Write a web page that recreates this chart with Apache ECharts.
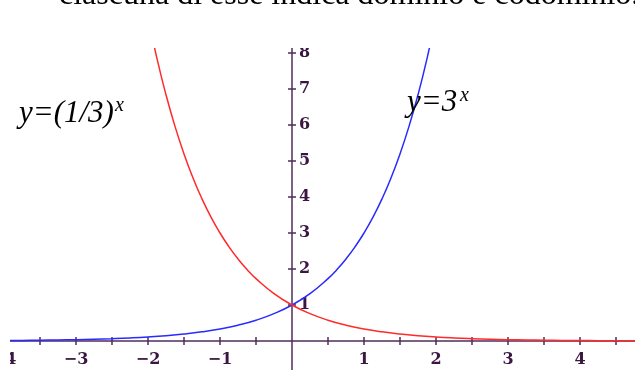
<!DOCTYPE html>
<html>
<head>
<meta charset="utf-8">
<script src="https://cdn.jsdelivr.net/npm/echarts@6/dist/echarts.min.js"></script>
<style>
  html, body { margin: 0; padding: 0; background: #ffffff; }
  #chart { width: 635px; height: 370px; }
</style>
</head>
<body>
<div id="chart"></div>
<script>
// y = 3^x, sampled points
const blueX = [-4.06, -3.75, -3.5, -3.25, -3, -2.75, -2.5, -2.25, -2, -1.75, -1.5, -1.25, -1, -0.75, -0.5, -0.25, 0, 0.25, 0.5, 0.625, 0.75, 0.875, 1, 1.125, 1.25, 1.375, 1.5, 1.625, 1.75, 1.875, 2];
const blueY = [0.0116, 0.0162, 0.0214, 0.0281, 0.037, 0.0487, 0.0642, 0.0844, 0.1111, 0.1462, 0.1925, 0.2533, 0.3333, 0.4387, 0.5774, 0.7598, 1, 1.3161, 1.7321, 1.987, 2.2795, 2.6151, 3, 3.4415, 3.9482, 4.5293, 5.1962, 5.9612, 6.8385, 7.845, 9];

// y = (1/3)^x, sampled points
const redX = [-2, -1.875, -1.75, -1.625, -1.5, -1.375, -1.25, -1.125, -1, -0.875, -0.75, -0.625, -0.5, -0.25, 0, 0.25, 0.5, 0.75, 1, 1.25, 1.5, 1.75, 2, 2.25, 2.5, 2.75, 3, 3.25, 3.5, 3.75, 4, 4.25, 4.5, 4.8];
const redY = [9, 7.845, 6.8385, 5.9612, 5.1962, 4.5293, 3.9482, 3.4415, 3, 2.6151, 2.2795, 1.987, 1.7321, 1.3161, 1, 0.7598, 0.5774, 0.4387, 0.3333, 0.2533, 0.1925, 0.1462, 0.1111, 0.0844, 0.0642, 0.0487, 0.037, 0.0281, 0.0214, 0.0162, 0.0123, 0.0094, 0.0071, 0.0051];

// axis ticks and labels
const xTicks = [-3.5, -3, -2.5, -2, -1.5, -1, -0.5, 0.5, 1, 1.5, 2, 2.5, 3, 3.5, 4, 4.5];
const xLabels = [-4, -3, -2, -1, 1, 2, 3, 4];
const yTicks = [1, 2, 3, 4, 5, 6, 7, 8];
const yLabels = [1, 2, 3, 4, 5, 6, 7, 8];

const headline = 'ciascuna di esse indica dominio e codominio.';

const AXIS = '#4f2d5a';
const LABEL = '#3a1740';
const SERIF = '"Liberation Serif", "Times New Roman", serif';
const TICKFONT = '"DejaVu Serif", serif';

// plot window in data units; the axes cross at the origin
const X_MIN = -4.0556, X_MAX = 4.7639;
const Y_MIN = -0.806, Y_MAX = 8.139;
const GRID = { left: 0, right: 0, top: 48, bottom: 0 };
const W = 635, H = 370;
const plotW = W - GRID.left - GRID.right;
const plotH = H - GRID.top - GRID.bottom;
// distance of the origin from the grid's left and bottom edges
const yAxisShift = (0 - X_MIN) / (X_MAX - X_MIN) * plotW;
const xAxisShift = (0 - Y_MIN) / (Y_MAX - Y_MIN) * plotH;

function pairs(xs, ys) { return xs.map((x, i) => [x, ys[i]]); }
const minusFmt = v => String(v).replace('-', '\u2212');

const chart = echarts.init(document.getElementById('chart'), null, { renderer: 'canvas' });

const tickStyle = { color: AXIS, width: 1.5 };
const baseX = {
  type: 'value', min: X_MIN, max: X_MAX, position: 'bottom', offset: -xAxisShift,
  splitLine: { show: false }
};
const baseY = {
  type: 'value', min: Y_MIN, max: Y_MAX, position: 'left', offset: -yAxisShift,
  splitLine: { show: false }
};

chart.setOption({
  animation: false,
  backgroundColor: '#ffffff',
  grid: Object.assign({ containLabel: false, outerBoundsMode: 'none' }, GRID),
  xAxis: [
    Object.assign({}, baseX, {
      axisLine: { show: true, onZero: false, lineStyle: { color: AXIS, width: 1.5 } },
      axisTick: { show: true, inside: false, length: 4, lineStyle: tickStyle, customValues: xTicks },
      axisLabel: {
        show: true, margin: 11, color: LABEL, fontFamily: TICKFONT, fontWeight: 'bold', fontSize: 16,
        customValues: xLabels, formatter: minusFmt
      }
    }),
    Object.assign({}, baseX, {
      axisLine: { show: false, onZero: false },
      axisTick: { show: true, inside: true, length: 4, lineStyle: tickStyle, customValues: xTicks },
      axisLabel: { show: false }
    })
  ],
  yAxis: [
    Object.assign({}, baseY, {
      axisLine: { show: true, onZero: false, lineStyle: { color: AXIS, width: 1.5 } },
      axisTick: { show: true, inside: false, length: 4, lineStyle: tickStyle, customValues: yTicks },
      axisLabel: {
        show: true, inside: true, margin: 7, color: LABEL, fontFamily: TICKFONT, fontWeight: 'bold', fontSize: 16,
        customValues: yLabels
      }
    }),
    Object.assign({}, baseY, {
      axisLine: { show: false, onZero: false },
      axisTick: { show: true, inside: true, length: 4, lineStyle: tickStyle, customValues: yTicks },
      axisLabel: { show: false }
    })
  ],
  series: [
    {
      name: 'y=3^x', type: 'line', xAxisIndex: 0, yAxisIndex: 0,
      data: pairs(blueX, blueY), smooth: true, showSymbol: false, clip: true,
      lineStyle: { color: '#2a2aff', width: 1.5 }, z: 5
    },
    {
      name: 'y=(1/3)^x', type: 'line', xAxisIndex: 0, yAxisIndex: 0,
      data: pairs(redX, redY), smooth: true, showSymbol: false, clip: true,
      lineStyle: { color: '#ff2a2a', width: 1.5 }, z: 5
    }
  ],
  graphic: [
    // blank margins around the plot
    { type: 'rect', left: 0, top: 48, shape: { x: 0, y: 0, width: 10, height: 322 }, style: { fill: '#ffffff' }, z: 100 },
    { type: 'rect', left: 0, top: 14, shape: { x: 0, y: 0, width: 635, height: 34 }, style: { fill: '#ffffff' }, z: 100 },
    // running text line above the figure
    { type: 'text', x: 59, y: -4.8, z: 110,
      style: { text: headline, font: '32px ' + SERIF, fill: '#000000', textAlign: 'left', textVerticalAlign: 'middle' } },
    // curve names
    { type: 'text', x: 19, y: 113.5, z: 110,
      style: { text: 'y=(1/3)', font: 'italic 31px ' + SERIF, fill: '#000000', textAlign: 'left', textVerticalAlign: 'middle' } },
    { type: 'text', x: 115, y: 106, z: 110,
      style: { text: 'x', font: 'italic 20px ' + SERIF, fill: '#000000', textAlign: 'left', textVerticalAlign: 'middle' } },
    { type: 'text', x: 407, y: 102.5, z: 110,
      style: { text: 'y=3', font: 'italic 31px ' + SERIF, fill: '#000000', textAlign: 'left', textVerticalAlign: 'middle' } },
    { type: 'text', x: 460, y: 96, z: 110,
      style: { text: 'x', font: 'italic 20px ' + SERIF, fill: '#000000', textAlign: 'left', textVerticalAlign: 'middle' } }
  ]
});
</script>
</body>
</html>
